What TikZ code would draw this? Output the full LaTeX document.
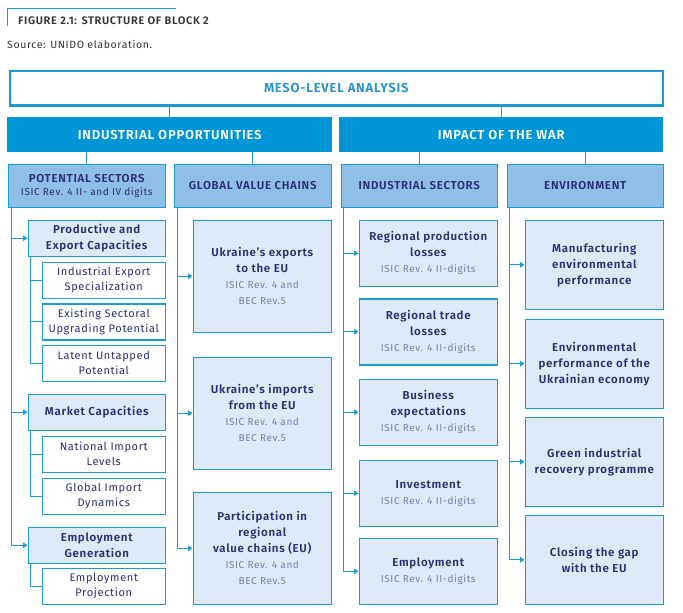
\documentclass[tikz,border=0pt]{standalone}
\usepackage{fontspec}
\setmainfont{Fira Sans}[BoldFont={* SemiBold}, LetterSpace=6]
\usetikzlibrary{arrows.meta}
\definecolor{lineblue}{RGB}{27, 154, 215}
\definecolor{headblue}{RGB}{0, 149, 214}
\definecolor{mesotext}{RGB}{30, 144, 210}
\definecolor{secfill}{RGB}{143, 190, 230}
\definecolor{itemfill}{RGB}{221, 233, 246}
\definecolor{navytext}{RGB}{43, 47, 115}
\definecolor{codetext}{RGB}{122, 127, 176}
\definecolor{captext}{RGB}{51, 51, 51}

% switch for the classification lines under a box title
\newcommand{\codestyle}{\mdseries\color{codetext}\fontsize{10}{15}\selectfont}

\tikzset{
  box/.style={anchor=north west, inner sep=0pt, align=center, text=navytext},
  meso/.style={box, draw=lineblue, line width=2.5pt, fill=white, text=mesotext,
    font=\bfseries\fontsize{13}{14}\selectfont, minimum width=653pt, minimum height=34.5pt},
  theme/.style={box, fill=headblue, text=white,
    font=\bfseries\fontsize{13}{14}\selectfont, minimum height=35pt},
  section/.style={box, draw=lineblue, line width=1.5pt, fill=secfill,
    font=\bfseries\fontsize{11.5}{15}\selectfont, minimum height=43pt},
  item/.style={box, draw=lineblue, line width=1.5pt, fill=itemfill,
    font=\bfseries\fontsize{11.5}{16}\selectfont},
  leaf/.style={box, draw=lineblue, line width=1.5pt, fill=white,
    font=\fontsize{11}{15}\selectfont, minimum width=123pt, minimum height=36pt},
  link/.style={draw=lineblue, line width=1.4pt},
  feed/.style={link, -{Triangle[length=4.5pt, width=5.5pt]}},
}

\begin{document}
\begin{tikzpicture}[x=1pt, y=-1pt]
  \useasboundingbox (0,0) rectangle (683,613);

  % caption
  \draw[lineblue, line width=1pt] (7,26) -- (7,8) -- (176,8);
  \node[anchor=west, inner sep=0pt, text=captext, font=\bfseries\fontsize{11}{13}\selectfont] (fig) at (18,21) {FIGURE 2.1: STRUCTURE OF BLOCK 2};
  \node[anchor=west, inner sep=0pt, text=captext, font=\fontsize{10.5}{13}\selectfont] (src) at (7,44) {Source: UNIDO elaboration.};

  % --- top levels ---
  \node[meso] (meso) at (8.5,69.5) {MESO-LEVEL ANALYSIS};
  \node[theme, minimum width=325pt] (io) at (7,117) {INDUSTRIAL OPPORTUNITIES};
  \node[theme, minimum width=324pt] (war) at (339,117) {IMPACT OF THE WAR};
  \draw[link] (io.north) -- (io.north |- meso.south);
  \draw[link] (war.north) -- (war.north |- meso.south);

  \node[section, minimum width=157pt] (ps) at (7.5,163.5) {POTENTIAL SECTORS\\[-2pt]\codestyle\color{navytext}ISIC Rev. 4 II- and IV digits};
  \node[section, minimum width=157pt] (gvc) at (173.5,163.5) {GLOBAL VALUE CHAINS};
  \node[section, minimum width=156pt] (is) at (340.5,163.5) {INDUSTRIAL SECTORS};
  \node[section, minimum width=156pt] (env) at (506.5,163.5) {ENVIRONMENT};
  \draw[link] (ps.north) -- (ps.north |- io.south);
  \draw[link] (gvc.north) -- (gvc.north |- io.south);
  \draw[link] (is.north) -- (is.north |- war.south);
  \draw[link] (env.north) -- (env.north |- war.south);

  % --- potential sectors ---
  \tikzset{item/.append style={minimum width=137pt, minimum height=36pt}}
  \node[item] (pec) at (27.5,219.5) {Productive and\\Export Capacities};
  \node[leaf] (iex) at (41.5,261.5) {Industrial Export\\Specialization};
  \node[leaf] (ess) at (41.5,303) {Existing Sectoral\\Upgrading Potential};
  \node[leaf] (lup) at (41.5,344.5) {Latent Untapped\\Potential};
  \node[item] (mc) at (27.5,393.5) {Market Capacities};
  \node[leaf] (nil) at (41.5,435.5) {National Import\\Levels};
  \node[leaf] (gid) at (41.5,477.5) {Global Import\\Dynamics};
  \node[item] (eg) at (27.5,526.5) {Employment\\Generation};
  \node[leaf] (epr) at (41.5,567.5) {Employment\\Projection};

  \foreach \n in {pec, mc, eg}
    \draw[feed] ([xshift=4pt]ps.south west) |- (\n.west);
  \foreach \n in {iex, ess, lup}
    \draw[link] ([xshift=3pt]pec.south west) |- (\n.west);
  \foreach \n in {nil, gid}
    \draw[link] ([xshift=3pt]mc.south west) |- (\n.west);
  \draw[link] ([xshift=3pt]eg.south west) |- (epr.west);

  % --- global value chains ---
  \tikzset{item/.append style={minimum width=138pt}}
  \node[item, minimum height=112pt] (uex) at (192.5,219.5) {Ukraine's exports\\to the EU\\\codestyle ISIC Rev. 4 and\\\codestyle BEC Rev.5};
  \node[item, minimum height=112pt] (uim) at (192.5,356.5) {Ukraine's imports\\from the EU\\\codestyle ISIC Rev. 4 and\\\codestyle BEC Rev.5};
  \node[item, minimum height=112pt] (rvc) at (192.5,491.5) {Participation in\\regional\\value chains (EU)\\\codestyle ISIC Rev. 4 and\\\codestyle BEC Rev.5};
  \foreach \n in {uex, uim, rvc}
    \draw[feed] ([xshift=4pt]gvc.south west) |- (\n.west);

  % --- industrial sectors ---
  \node[item, minimum height=66pt] (rpl) at (358.5,219.5) {Regional production\\losses\\\codestyle ISIC Rev. 4 II-digits};
  \node[item, minimum height=66pt] (rtl) at (358.5,298) {Regional trade\\losses\\\codestyle ISIC Rev. 4 II-digits};
  \node[item, minimum height=66pt] (bex) at (358.5,378.5) {Business\\expectations\\\codestyle ISIC Rev. 4 II-digits};
  \node[item, minimum height=66pt] (inv) at (358.5,459.5) {Investment\\\codestyle ISIC Rev. 4 II-digits};
  \node[item, minimum height=66pt] (emp) at (358.5,537.5) {Employment\\\codestyle ISIC Rev. 4 II-digits};
  \foreach \n in {rpl, rtl, bex, inv, emp}
    \draw[feed] ([xshift=3pt]is.south west) |- (\n.west);

  % --- environment ---
  \node[item, minimum height=89pt] (mep) at (524.5,219.5) {Manufacturing\\environmental\\performance};
  \node[item, minimum height=89pt] (epu) at (524.5,318.5) {Environmental\\performance of the\\Ukrainian economy};
  \node[item, minimum height=89pt] (gir) at (524.5,416.5) {Green industrial\\recovery programme};
  \node[item, minimum height=89pt] (gap) at (524.5,514.5) {Closing the gap\\with the EU};
  \foreach \n in {mep, epu, gir, gap}
    \draw[feed] ([xshift=3pt]env.south west) |- (\n.west);

\end{tikzpicture}
\end{document}
